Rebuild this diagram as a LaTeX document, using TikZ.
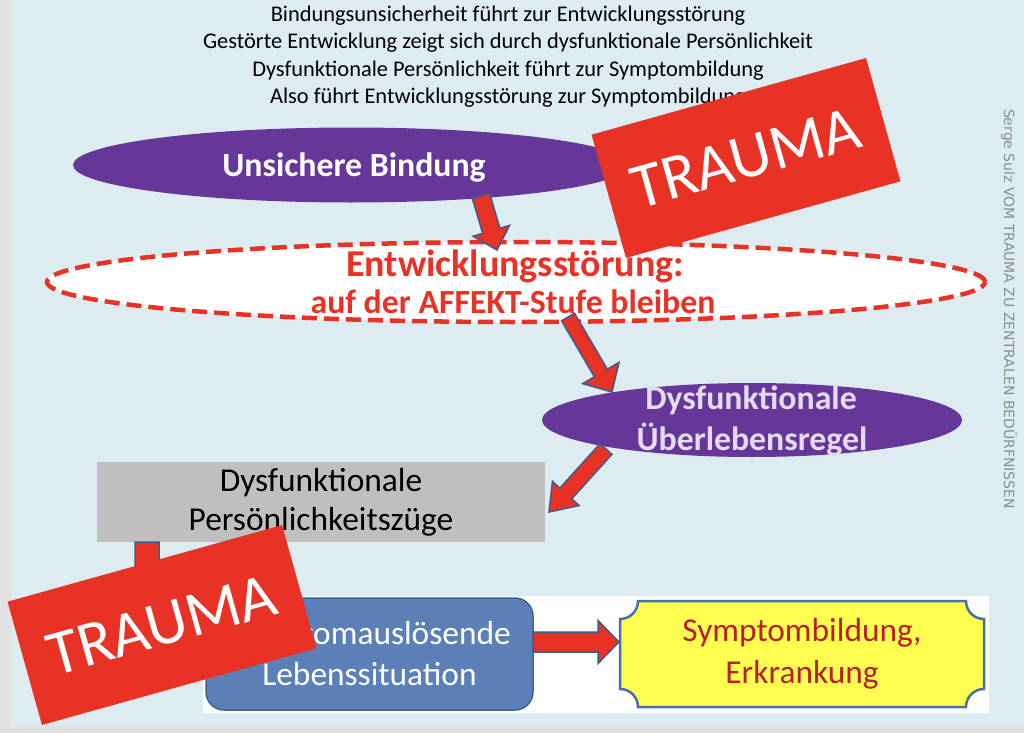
\documentclass[tikz,border=0pt]{standalone}
\usepackage{fontspec}
\setmainfont{Carlito}
\newfontfamily\sidefont{DejaVu Sans}
\usetikzlibrary{shapes.geometric,calc}
\definecolor{slidebg}{RGB}{221,236,241}
\definecolor{framegray}{RGB}{226,226,226}
\definecolor{traumared}{RGB}{232,50,38}
\definecolor{ellpurple}{RGB}{102,55,153}
\definecolor{lavender}{RGB}{230,220,242}
\definecolor{arrowedge}{RGB}{62,92,140}
\definecolor{boxgray}{RGB}{191,191,191}
\definecolor{boxblue}{RGB}{91,128,184}
\definecolor{boxblueedge}{RGB}{64,98,150}
\definecolor{plaqueyellow}{RGB}{255,255,80}
\definecolor{plaqueedge}{RGB}{74,110,165}
\definecolor{darkred}{RGB}{185,30,35}
\definecolor{creditgray}{RGB}{140,140,140}
% block arrow: from, to, half shaft, half head, head length
\newcommand{\bigarrow}[5]{%
  \coordinate (#2-base) at ($(#2)!#5!(#1)$);
  \draw[barrow] ($(#1)!#3!90:(#2)$) -- ($(#2-base)!#3!90:(#2)$) -- ($(#2-base)!#4!90:(#2)$) -- (#2)
    -- ($(#2-base)!#4!-90:(#2)$) -- ($(#2-base)!#3!-90:(#2)$) -- ($(#1)!#3!-90:(#2)$) -- cycle;}
\begin{document}
\begin{tikzpicture}[x=1pt, y=-1pt,
  topline/.style={anchor=base, font=\fontsize{22.4}{26}\selectfont},
  purpleell/.style={shape=ellipse, fill=ellpurple, inner sep=0pt},
  ellbold/.style={anchor=base, text=white, font=\fontsize{33.8}{38}\selectfont\bfseries},
  dashell/.style={shape=ellipse, fill=white, draw=traumared, line width=4.5pt, dash pattern=on 15pt off 7pt, minimum width=938pt, minimum height=80pt, inner sep=0pt},
  redbold/.style={anchor=base, text=traumared, font=\fontsize{33.8}{38}\selectfont\bfseries},
  graybox/.style={shape=rectangle, fill=boxgray, minimum width=448pt, minimum height=80pt, align=center, font=\fontsize{33.4}{39}\selectfont},
  bluebox/.style={shape=rectangle, rounded corners=18pt, fill=boxblue, draw=boxblueedge, line width=1.5pt, minimum width=327pt, minimum height=112pt, align=center, text=white, font=\fontsize{33.4}{41}\selectfont},
  plaque/.style={fill=plaqueyellow, draw=plaqueedge, line width=2.5pt},
  plaquetext/.style={shape=rectangle, minimum width=364pt, minimum height=106pt, align=center, text=darkred, font=\fontsize{33.4}{42}\selectfont},
  barrow/.style={fill=traumared, draw=arrowedge, line width=1.5pt, line join=miter},
  traumabox/.style={shape=rectangle, fill=traumared, minimum width=285pt, minimum height=128pt, rotate=15.6, text=white, text depth=0pt, font=\fontsize{64}{68}\selectfont},
  credit/.style={rotate=-90, text=creditgray, font=\sidefont\fontsize{14}{16}\selectfont}]
\useasboundingbox (0,0) rectangle (1024,733);
\fill[framegray] (0,0) rectangle (1024,733);
\fill[slidebg] (11,0) rectangle (1024,726);

\node[topline] (line1) at (508,22) {Bindungsunsicherheit führt zur Entwicklungsstörung};
\node[topline] (line2) at (508,49) {Gestörte Entwicklung zeigt sich durch dysfunktionale Persönlichkeit};
\node[topline] (line3) at (508,77) {Dysfunktionale Persönlichkeit führt zur Symptombildung};
\node[topline] (line4) at (508,104) {Also führt Entwicklungsstörung zur Symptombildung};

\node[purpleell, minimum width=556pt, minimum height=75pt] (bindung) at (351,165) {};
\node[ellbold] (bindungtxt) at (354,176) {Unsichere Bindung};

\node[dashell] (stoerung) at (516,282) {};
\node[redbold, font=\fontsize{38}{42}\selectfont\bfseries] (stoerung1) at (515,276) {Entwicklungsstörung:};
\node[redbold] (stoerung2) at (513,313) {auf der AFFEKT-Stufe bleiben};

\node[purpleell, minimum width=420pt, minimum height=74pt] (regel) at (752,420) {};
\node[ellbold, text=lavender] (regel1) at (751,409) {Dysfunktionale};
\node[ellbold, text=lavender] (regel2) at (752,450) {Überlebensregel};

\node[graybox] (zuege) at (321,502) {Dysfunktionale\\Persönlichkeitszüge};

\fill[white] (203,596) rectangle (989,713);
\node[bluebox] (situation) at (369.5,654) {Symptomauslösende\\Lebenssituation};
\draw[plaque] (638,601) -- (966,601) .. controls (966,611) and (974,619) .. (984,619) -- (984,689)
  .. controls (974,689) and (966,697) .. (966,707) -- (638,707) .. controls (638,697) and (630,689) .. (620,689)
  -- (620,619) .. controls (630,619) and (638,611) .. (638,601) -- cycle;
\node[plaquetext] (symptom) at (802,654) {Symptombildung,\\Erkrankung};

\coordinate (a1s) at (481,196);
\coordinate (a1e) at (497,250);
\coordinate (a2s) at (568,317);
\coordinate (a2e) at (612,392);
\coordinate (a3s) at (606,449);
\coordinate (a3e) at (549,512);
\coordinate (a4s) at (147,542);
\coordinate (a4e) at (147,650);
\coordinate (a5s) at (533,642);
\coordinate (a5e) at (619,642);
\bigarrow{a1s}{a1e}{9pt}{19pt}{20pt}
\bigarrow{a2s}{a2e}{7.5pt}{21pt}{22pt}
\bigarrow{a3s}{a3e}{8pt}{18pt}{25pt}
\bigarrow{a4s}{a4e}{12pt}{24pt}{22pt}
\bigarrow{a5s}{a5e}{10pt}{21.5pt}{21pt}

\node[traumabox] (trauma1) at (746,158) {TRAUMA};
\node[traumabox] (trauma2) at (162,625) {TRAUMA};

\node[credit] (credit) at (1009,309) {Serge Sulz VOM TRAUMA ZU ZENTRALEN BEDÜRFNISSEN};
\end{tikzpicture}
\end{document}
